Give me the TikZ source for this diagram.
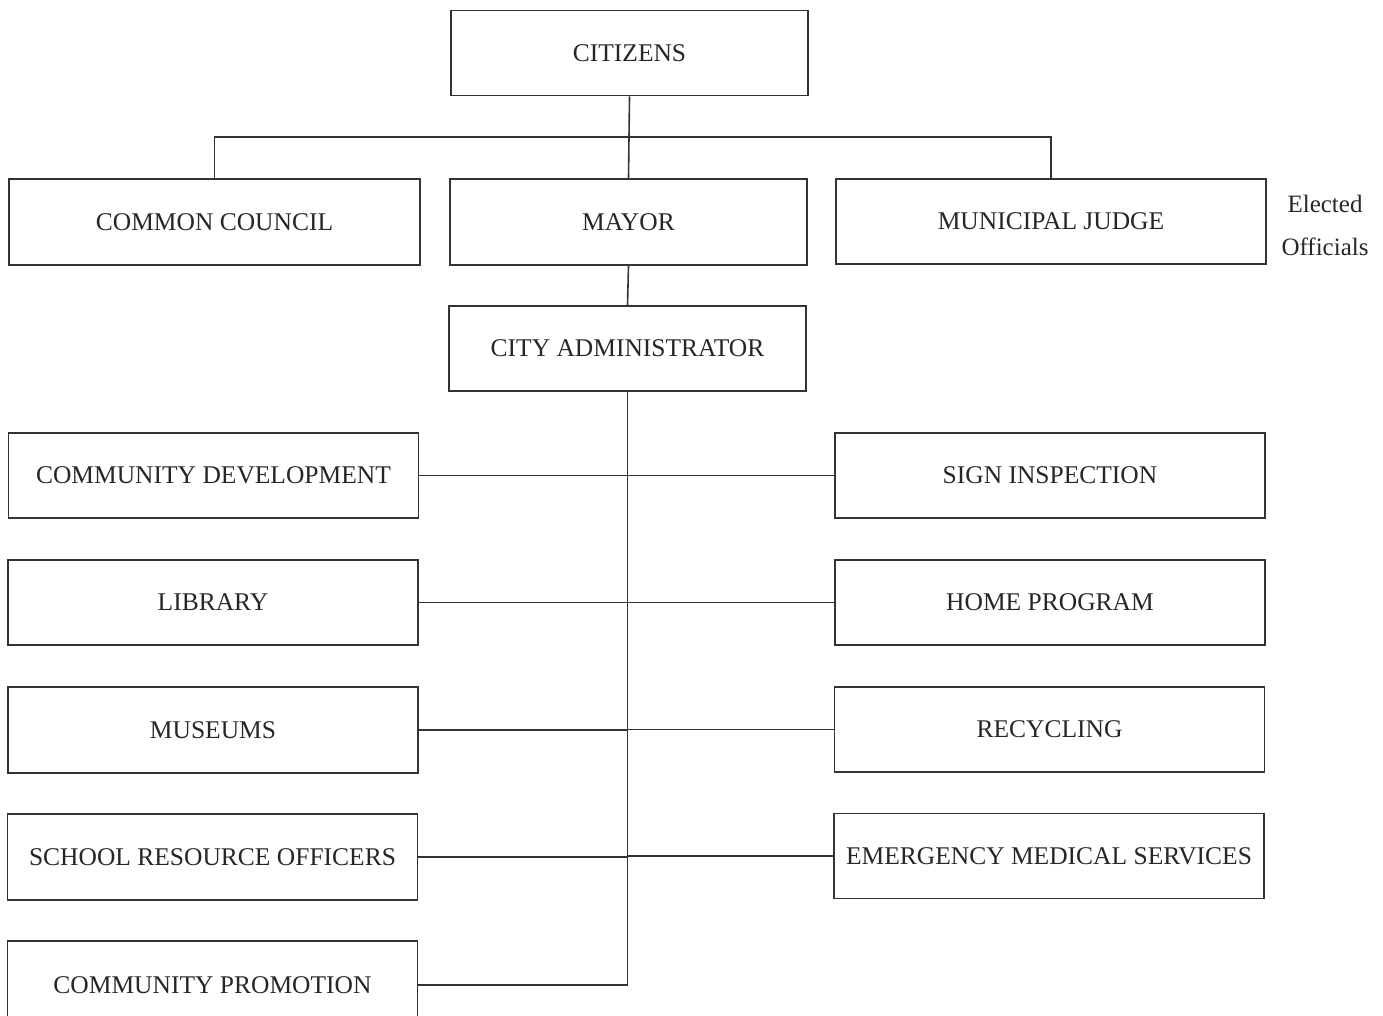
\documentclass[tikz,border=0pt]{standalone}
\usepackage{fontspec}
\setmainfont{Liberation Serif}
\begin{document}
\begin{tikzpicture}[x=1pt,y=-1pt,
  box/.style={draw=black!80, line width=1.6pt, minimum height=85pt, inner sep=0pt,
    font=\fontsize{25.5}{30}\selectfont, text=black!85},
  wbox/.style={box, minimum width=357pt},
  lbox/.style={box, minimum width=410pt},
  rbox/.style={box, minimum width=430pt},
  link/.style={draw=black!80, line width=1.6pt}]
\useasboundingbox (0,0) rectangle (1383,1016);
\clip (0,0) rectangle (1383,1016);
\node[wbox] (cit) at (629.5,53) {CITIZENS};
\node[box, minimum width=411pt, minimum height=86pt] (cc) at (214.5,222) {COMMON COUNCIL};
\node[wbox, minimum height=86pt] (mayor) at (628.5,222) {MAYOR};
\node[rbox] (judge) at (1051,221.5) {MUNICIPAL JUDGE};
\node[align=center, font=\fontsize{25}{43}\selectfont, text=black!85, inner sep=0pt] (elected) at (1325,225) {Elected\\Officials};
\node[wbox] (admin) at (627.5,348.5) {CITY ADMINISTRATOR};
\node[lbox] (cd) at (213.5,475.5) {COMMUNITY DEVELOPMENT};
\node[lbox] (lib) at (213,602.5) {LIBRARY};
\node[lbox, minimum height=86pt] (mus) at (213,730) {MUSEUMS};
\node[lbox, minimum height=86pt] (sro) at (212.5,857) {SCHOOL RESOURCE OFFICERS};
\node[lbox, minimum height=88pt] (promo) at (212.5,985) {COMMUNITY PROMOTION};
\node[rbox] (sign) at (1050,475.5) {SIGN INSPECTION};
\node[rbox] (home) at (1050,602.5) {HOME PROGRAM};
\node[rbox] (rec) at (1049.5,729.5) {RECYCLING};
\node[rbox] (ems) at (1049,856) {EMERGENCY MEDICAL SERVICES};
\coordinate (bus) at (629,137);
\coordinate (tend) at (627,985);
\draw[link] (cit.south) -- (bus);
\draw[link] (cc.north) |- (bus) -| (judge.north);
\draw[link] (bus) -- (mayor.north);
\draw[link] (mayor.south) -- (admin.north);
\draw[link] (admin.south) -- (admin.south |- tend) -- (promo.east);
\foreach \n in {cd,lib,mus,sro}{\draw[link] (\n.east) -- (\n.east -| admin.south);}
\foreach \n in {sign,home,rec,ems}{\draw[link] (\n.west) -- (\n.west -| admin.south);}
\end{tikzpicture}
\end{document}
